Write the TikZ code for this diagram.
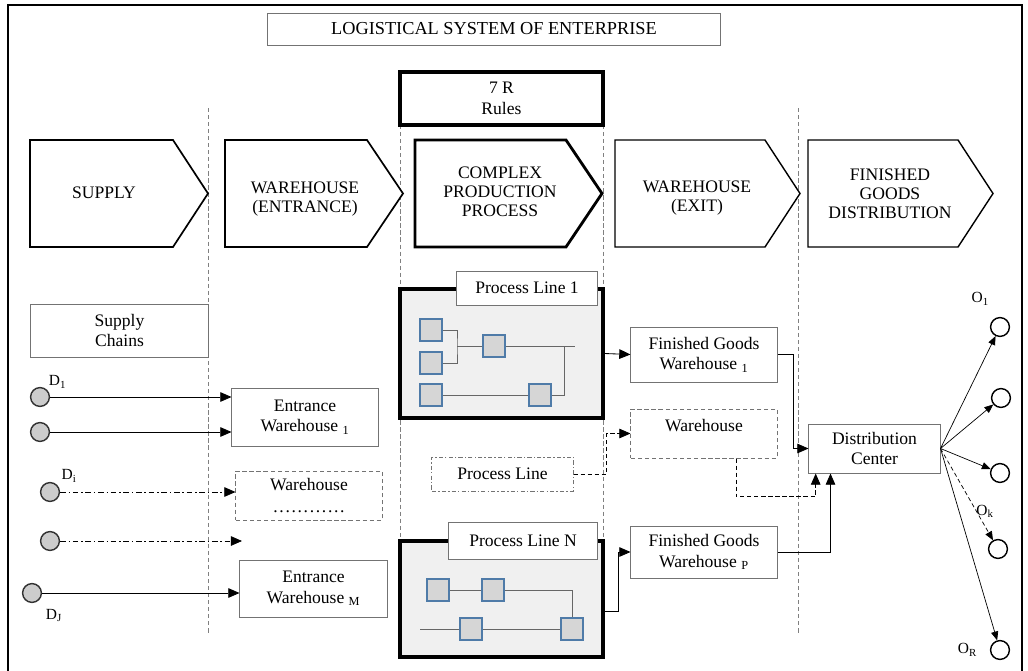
\documentclass[tikz,border=0pt]{standalone}
\usepackage{fontspec}
\setmainfont{Liberation Serif}
\usepackage{xcolor}
\usetikzlibrary{arrows.meta,positioning,backgrounds,shapes}

\definecolor{cellblue}{HTML}{4F7BA8}
\definecolor{cellfill}{HTML}{D6D6D6}

\begin{document}
\begin{tikzpicture}[
    x=0.025cm, y=-0.025cm,
    font=\fontsize{12.5}{14.5}\selectfont,
    box/.style={rectangle, draw=black!55, line width=0.7pt, fill=white, align=center, inner sep=2pt},
    dashbox/.style={box, dash pattern=on 3pt off 2pt},
    dotbox/.style={box, dash pattern=on 3pt off 1.5pt on 1pt off 1.5pt},
    heavy/.style={rectangle, draw=black, line width=2.2pt, fill=white, align=center},
    panel/.style={rectangle, draw=black, line width=2.2pt, fill=black!6},
    stage/.style={draw=black, line width=1.2pt, fill=white, line join=miter},
    stagetext/.style={align=center, font=\fontsize{12.5}{13.5}\selectfont},
    cell/.style={rectangle, draw=cellblue, line width=1.6pt, fill=cellfill, minimum size=0.55cm, inner sep=0pt},
    wire/.style={draw=black!60, line width=0.6pt},
    src/.style={circle, draw=black!80, line width=1pt, fill=black!20, minimum size=0.47cm, inner sep=0pt},
    sink/.style={circle, draw=black, line width=1pt, fill=white, minimum size=0.47cm, inner sep=0pt},
    arrow/.style={-{Triangle[length=0.28cm,width=0.24cm]}, line width=0.6pt},
    arrowsm/.style={-{Triangle[length=0.22cm,width=0.18cm]}, line width=0.5pt},
    dashdot/.style={dash pattern=on 4pt off 2pt on 1pt off 2pt},
    sep/.style={draw=black!50, line width=0.5pt, dash pattern=on 3pt off 2pt},
    lbl/.style={font=\fontsize{11}{12}\selectfont, inner sep=1pt}
]
    \useasboundingbox (0,0) rectangle (1028,671);
    % Frame
    \draw[line width=0.8pt] (8,700) -- (8,5) -- (1022,5) -- (1022,700);

    % Header
    \node[box, minimum width=11.3cm, minimum height=0.8cm, font=\fontsize{13}{15}\selectfont] (title) at (494,29) {LOGISTICAL SYSTEM OF ENTERPRISE};
    \node[heavy, minimum width=5.075cm, minimum height=1.325cm] (rules) at (501.5,98.5) {7 R\\Rules};

    % Stages
    \draw[stage] (30,140) -- (173,140) -- (208,193.5) -- (173,247) -- (30,247) -- cycle;
    \draw[stage] (225,140) -- (367,140) -- (403,193.5) -- (367,247) -- (225,247) -- cycle;
    \draw[stage, line width=2pt] (415,140) -- (566,140) -- (602,193.5) -- (566,247) -- (415,247) -- cycle;
    \draw[stage, line width=1pt] (615,140) -- (765,140) -- (800,193.5) -- (765,247) -- (615,247) -- cycle;
    \draw[stage, line width=1pt] (808,140) -- (958,140) -- (993,193.5) -- (958,247) -- (808,247) -- cycle;
    \node[stagetext] (supply) at (104,193) {SUPPLY};
    \node[stagetext] (whentr) at (305,199) {WAREHOUSE\\(ENTRANCE)};
    \node[stagetext] (complex) at (500,192) {COMPLEX\\PRODUCTION\\PROCESS};
    \node[stagetext] (whexit) at (697,198) {WAREHOUSE\\(EXIT)};
    \node[stagetext] (findist) at (890,194) {FINISHED\\GOODS\\DISTRIBUTION};

    % Supply side
    \node[box, minimum width=4.425cm, minimum height=1.325cm] (chains) at (119.5,330.5) {Supply\\Chains};
    \node[src, label={[lbl]45:D\textsubscript{1}}] (d1) at (40,397) {};
    \node[src] (d2) at (40,432) {};
    \node[src, label={[lbl, label distance=2pt]40:D\textsubscript{i}}] (di) at (50,492) {};
    \node[src] (d4) at (50,541) {};
    \node[src, label={[lbl, label distance=0.22cm]-50:D\textsubscript{J}}] (dj) at (32,593) {};
    \coordinate (d4end) at (242,541);

    % Entrance warehouses
    \node[box, minimum width=3.65cm, minimum height=1.45cm] (entr1) at (305,417) {Entrance\\Warehouse \textsubscript{1}};
    \node[dashbox, minimum width=3.65cm, minimum height=1.225cm] (whin) at (309,495.5) {Warehouse\\[1pt].\kern1.2pt.\kern1.2pt.\kern1.2pt.\kern1.2pt.\kern1.2pt.\kern1.2pt.\kern1.2pt.\kern1.2pt.\kern1.2pt.\kern1.2pt.\kern1.2pt.};
    \node[box, minimum width=3.675cm, minimum height=1.425cm] (entrM) at (313.5,588.5) {Entrance\\Warehouse \textsubscript{M}};

    % Process line 1
    \node[panel, minimum width=5.075cm, minimum height=3.225cm] (pl1) at (501.5,353.5) {};
    \node[box, minimum width=3.5cm, minimum height=0.85cm] (pl1lbl) at (527,288) {Process Line 1};
    \node[cell] (s11) at (431,330) {};
    \node[cell] (s12) at (431,363) {};
    \node[cell] (s13) at (431,395) {};
    \node[cell] (s14) at (494,346) {};
    \node[cell] (s15) at (540,395) {};
    \coordinate (j1) at (457,346);
    \coordinate (j2) at (564,346);
    \coordinate (e1) at (575,346);
    \draw[wire] (s11.east) -| (j1) |- (s12.east);
    \draw[wire] (j1) -- (s14.west);
    \draw[wire] (s14.east) -- (e1);
    \draw[wire] (j2) |- (s15.east);
    \draw[wire] (s13.east) -- (s15.west);

    % Process line (other)
    \node[dotbox, minimum width=3.525cm, minimum height=0.85cm] (pline) at (502.5,474) {Process Line};

    % Process line N
    \node[panel, minimum width=5.075cm, minimum height=2.9cm] (plN) at (501.5,599) {};
    \node[box, minimum width=3.7cm, minimum height=0.925cm] (plNlbl) at (523,540.5) {Process Line N};
    \node[cell] (sa) at (438,590) {};
    \node[cell] (sb) at (493,590) {};
    \node[cell] (sc) at (471,629) {};
    \node[cell] (sd) at (572,629) {};
    \coordinate (w0) at (420,629);
    \draw[wire] (sa) -- (sb);
    \draw[wire] (sb.east) -| (sd.north);
    \draw[wire] (w0) -- (sc.west);
    \draw[wire] (sc.east) -- (sd.west);

    % Exit warehouses
    \node[box, minimum width=3.65cm, minimum height=1.375cm] (fgw1) at (704,354.5) {Finished Goods\\Warehouse \textsubscript{1}};
    \node[dashbox, minimum width=3.65cm, minimum height=1.225cm, label={[anchor=north, yshift=-4pt]north:Warehouse}] (whout) at (704,433.5) {};
    \node[box, minimum width=3.65cm, minimum height=1.3cm] (fgwP) at (704,552) {Finished Goods\\Warehouse \textsubscript{P}};

    % Distribution
    \node[box, minimum width=3.275cm, minimum height=1.225cm] (dc) at (874.5,448.5) {Distribution\\Center};
    \node[sink, label={[lbl, label distance=0.3cm]115:O\textsubscript{1}}] (o1) at (1000,327) {};
    \node[sink] (o2) at (1001,398) {};
    \node[sink] (o3) at (1000,473) {};
    \node[sink, label={[lbl, label distance=0.5cm]95:O\textsubscript{k}}] (o4) at (998,549) {};
    \node[sink, label={[lbl, label distance=0.28cm]180:O\textsubscript{R}}] (o5) at (1000,650) {};

    % Arrows - supply flow
    \draw[arrow] (d1.east) -- (d1 -| entr1.west);
    \draw[arrow] (d2.east) -- (d2 -| entr1.west);
    \draw[arrow, dashdot] (di.east) -- (di -| whin.west);
    \draw[arrow, dashdot] (d4.east) -- (d4end);
    \draw[arrow] (dj.east) -- (dj -| entrM.west);

    % Arrows - production flow
    \draw[arrow] (pl1.east) -- (fgw1.west);
    \draw[arrow, dash pattern=on 3pt off 2pt] (pline.east) -- ++(33,0) |- (whout.west);
    \draw[arrow] ([yshift=-0.3cm]plN.east) -- ++(14,0) |- (fgwP.west);

    % Arrows - distribution flow
    \draw[arrow] (fgw1.east) -- ++(16,0) |- (dc.west);
    \draw[arrow, dash pattern=on 3pt off 2pt] ([xshift=0.8cm]whout.south) -- ++(0,38) -| ([xshift=0.18cm]dc.south west);
    \draw[arrow] (fgwP.east) -| ([xshift=0.55cm]dc.south west);
    \draw[arrowsm] (dc.east) -- (o1);
    \draw[arrowsm] (dc.east) -- (o2);
    \draw[arrowsm] (dc.east) -- (o3);
    \draw[arrowsm, densely dashed] (dc.east) -- (o4);
    \draw[arrowsm] (dc.east) -- (o5);

    % Phase separators
    \begin{scope}[on background layer]
        \draw[sep] (208,108) -- (208,633);
        \draw[sep] (798,108) -- (798,633);
        \draw[sep] (400,125) -- (400,657);
        \draw[sep] (603,125) -- (603,657);
    \end{scope}
\end{tikzpicture}
\end{document}
